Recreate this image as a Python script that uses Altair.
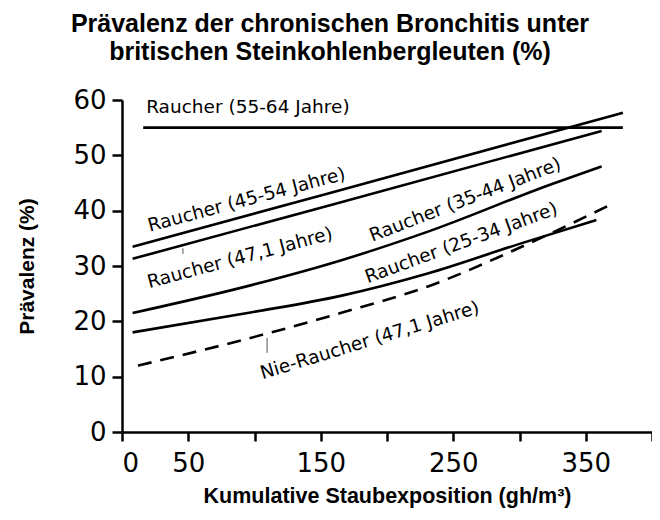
import altair as alt
import pandas as pd

# ---- data ----
s55_x = [16, 378]
s55_y = [55.0, 55.0]
s45_x = [8, 157, 378]
s45_y = [33.5, 43.2, 57.7]
s47_x = [8, 157, 362]
s47_y = [31.3, 41.0, 54.4]
s35_x = [8, 97, 165, 232, 323, 362]
s35_y = [21.5, 26.5, 31.0, 36.3, 44.7, 48.0]
s25_x = [8, 97, 165, 230, 300, 358]
s25_y = [18.0, 21.6, 24.6, 28.6, 34.0, 38.3]
nie_x = [12, 97, 165, 232, 300, 368]
nie_y = [12.0, 17.0, 21.5, 26.4, 33.3, 41.0]

label_text = ["Raucher (55-64 Jahre)", "Raucher (45-54 Jahre)", "Raucher (47,1 Jahre)",
              "Raucher (35-44 Jahre)", "Raucher (25-34 Jahre)", "Nie-Raucher (47,1 Jahre)"]
label_x = [95, 94, 89, 259, 256, 187]
label_y = [58.8, 42.0, 31.5, 42.0, 34.2, 16.6]
label_angle = [0, 345, 345, 339, 340, 343]

leader_x = [46, 109.5]
leader_y = [33.2, 17.0]
leader_y2 = [32.2, 14.3]

x_ticks = [0, 50, 100, 150, 200, 250, 300, 350, 400]
y_ticks = [0, 10, 20, 30, 40, 50, 60]

rows = []
for name, xs, ys in [("55-64", s55_x, s55_y), ("45-54", s45_x, s45_y), ("47,1", s47_x, s47_y),
                     ("35-44", s35_x, s35_y), ("25-34", s25_x, s25_y)]:
    for x, y in zip(xs, ys):
        rows.append({"serie": name, "x": x, "y": y})
solid = pd.DataFrame(rows)
dashed = pd.DataFrame({"serie": "nie", "x": nie_x, "y": nie_y})
labels = pd.DataFrame({"t": label_text, "x": label_x, "y": label_y, "a": label_angle})
leaders = pd.DataFrame({"x": leader_x, "y": leader_y, "y2": leader_y2})

xscale = alt.Scale(domain=[0, 400], nice=False, zero=False)
yscale = alt.Scale(domain=[0, 60], nice=False)

xaxis = alt.Axis(values=x_ticks,
                 labelExpr="datum.value == 0 || datum.value % 100 == 50 ? datum.label : ''",
                 title="Kumulative Staubexposition (gh/m³)", grid=False,
                 labelFont="DejaVu Sans", labelFontSize=26, labelColor="#000",
                 labelPadding=9, tickSize=9, tickWidth=2.5, tickColor="#000",
                 domainWidth=2.5, domainColor="#000",
                 titleFont="Liberation Sans", titleFontWeight="bold", titleFontSize=21.5,
                 titleColor="#000", titlePadding=9)
yaxis = alt.Axis(values=y_ticks, title="Prävalenz (%)", grid=False,
                 labelFont="DejaVu Sans", labelFontSize=26, labelColor="#000",
                 labelPadding=6, tickSize=10, tickWidth=2.5, tickColor="#000",
                 domainWidth=2.5, domainColor="#000",
                 titleFont="Liberation Sans", titleFontWeight="bold", titleFontSize=21,
                 titleColor="#000", titlePadding=35)

base_solid = alt.Chart(solid).mark_line(color="#000", strokeWidth=2.6, interpolate="monotone").encode(
    x=alt.X("x:Q", scale=xscale, axis=xaxis),
    y=alt.Y("y:Q", scale=yscale, axis=yaxis),
    detail="serie:N",
)
nie = alt.Chart(dashed).mark_line(color="#000", strokeWidth=2.6, strokeDash=[14, 9],
                                   interpolate="monotone").encode(
    x=alt.X("x:Q", scale=xscale), y=alt.Y("y:Q", scale=yscale))
text = alt.Chart(labels).mark_text(font="DejaVu Sans", fontSize=18.5, color="#000",
                                   align="center", baseline="middle").encode(
    x=alt.X("x:Q", scale=xscale), y=alt.Y("y:Q", scale=yscale),
    text="t:N", angle=alt.Angle("a:Q", scale=None))
lead = alt.Chart(leaders).mark_rule(color="#555", strokeWidth=1).encode(
    x=alt.X("x:Q", scale=xscale), y=alt.Y("y:Q", scale=yscale), y2="y2:Q")

chart = alt.layer(base_solid, nie, text, lead).properties(
    width=530, height=332,
    title=alt.Title(["Prävalenz der chronischen Bronchitis unter", "britischen Steinkohlenbergleuten (%)"],
                    font="Liberation Sans", fontSize=25, fontWeight="bold", color="#000",
                    anchor="middle", dx=-57, offset=22, lineHeight=28),
    autosize=alt.AutoSizeParams(type="none"),
    padding={"left": 114, "top": 92, "right": 0, "bottom": 80},
).configure_view(stroke=None)

chart.save("out.html", embed_options={"renderer": "svg", "actions": False})
